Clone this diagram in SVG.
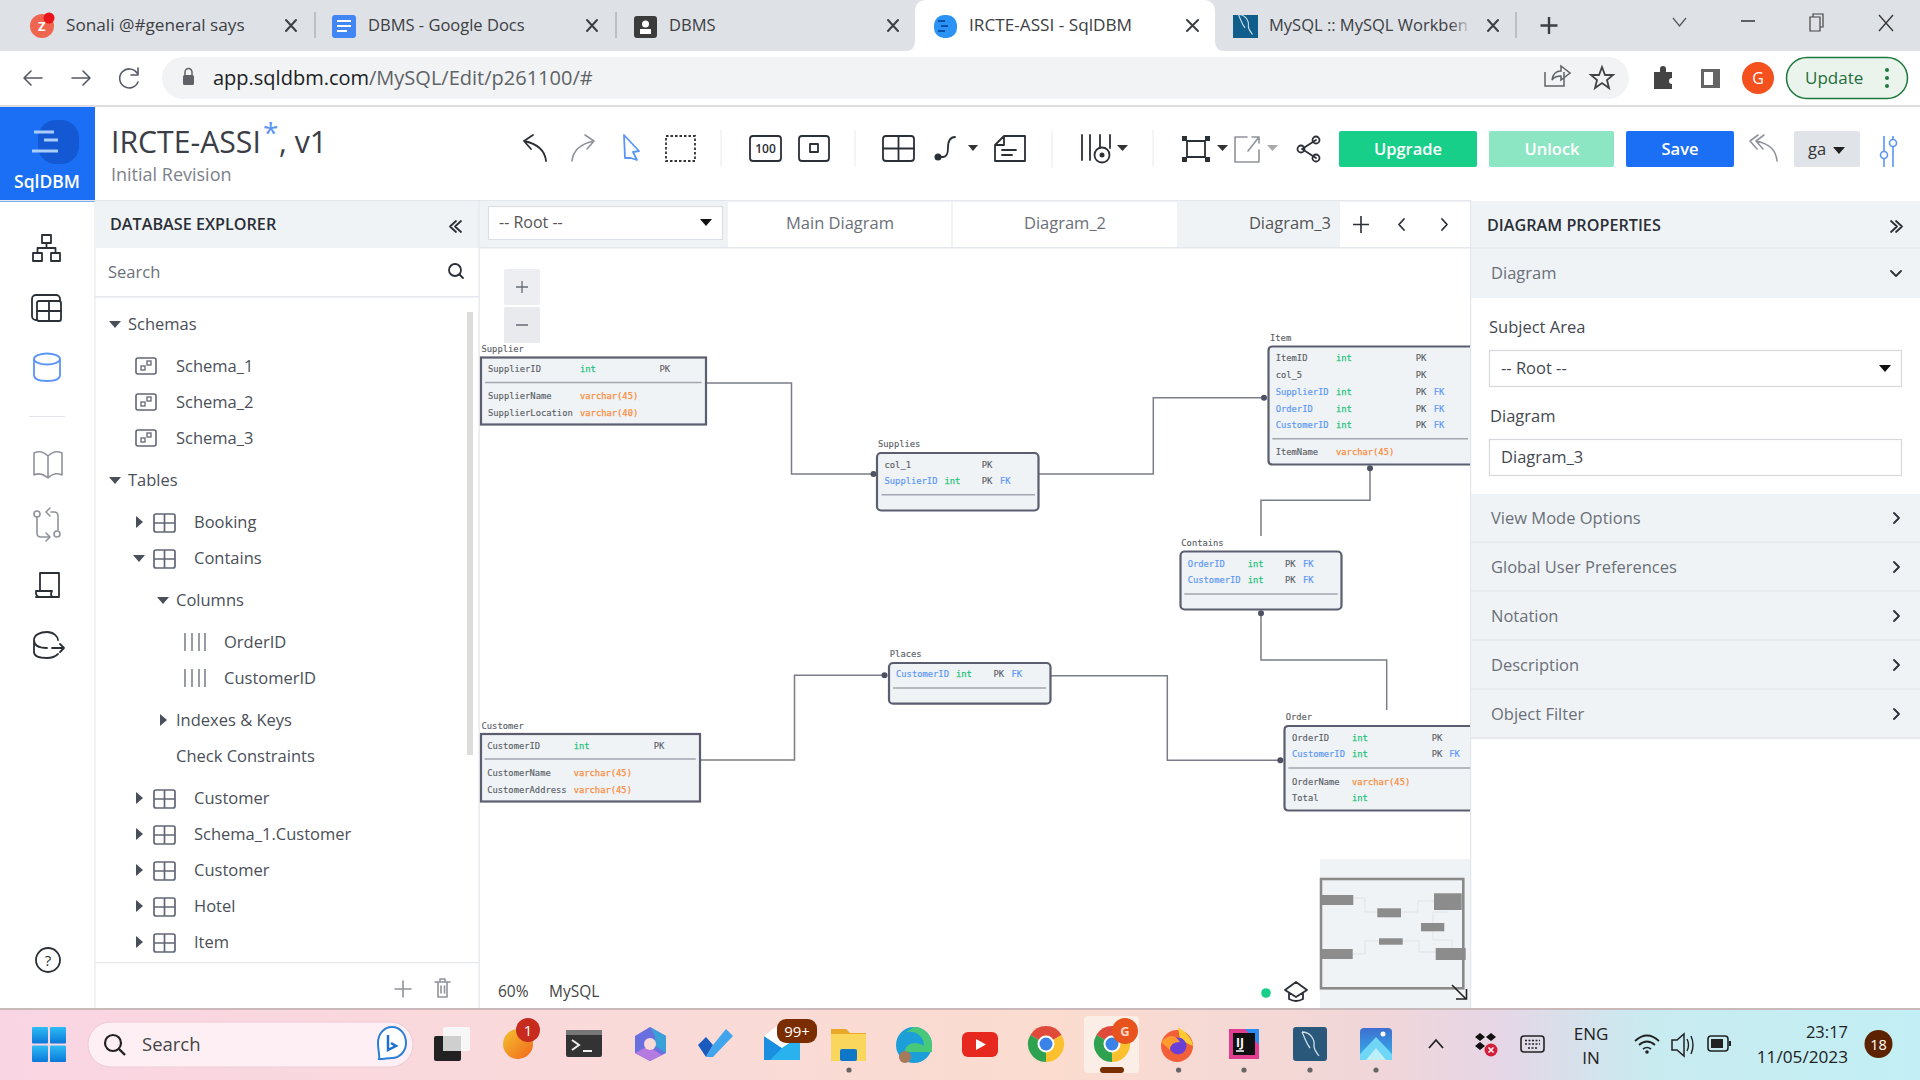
<svg xmlns="http://www.w3.org/2000/svg" xmlns:xlink="http://www.w3.org/1999/xlink" width="1920" height="1080" viewBox="0 0 1920 1080">
<style>
text{font-family:"Open Sans","Noto Sans","Liberation Sans",sans-serif;fill:#3c4148}
.tab{font-size:16.5px;fill:#3c4043}
.tree{font-size:16.5px;fill:#4a4f58}
.hdr{font-size:16.2px;font-weight:600;fill:#2b2f36}
.sec{font-size:16.5px;fill:#6b7078}
.lab{font-size:16.5px;fill:#444850}
.btn{font-size:16.5px;font-weight:600;fill:#fff;text-anchor:middle}
.m{font-family:"DejaVu Sans Mono","Liberation Mono",monospace;font-size:8.8px;fill:#5b5f66;stroke:#5b5f66;stroke-width:.15}
.m.g{fill:#1fc47a;stroke:#1fc47a;stroke-width:.25}
.m.o{fill:#fb8d3e;stroke:#fb8d3e;stroke-width:.25}
.m.b{fill:#5d98f6;stroke:#5d98f6;stroke-width:.2}
.tb{fill:#eff3f6;stroke:#5a5e6e;stroke-width:2.2}
.dv{stroke:#a3a6ae;stroke-width:1.6}
.cn{fill:none;stroke:#7b7e88;stroke-width:1.5}
.dot{fill:#4d5162}
.i{fill:none;stroke:#2b2f36;stroke-width:1.8;stroke-linecap:round;stroke-linejoin:round}
.ig{fill:none;stroke:#8f939c;stroke-width:1.6;stroke-linecap:round;stroke-linejoin:round}
.ip{fill:none;stroke:#555a66;stroke-width:1.6;stroke-linecap:round;stroke-linejoin:round}
.sep{stroke:#e8eaee;stroke-width:1}
.x{stroke:#3c4043;stroke-width:2;fill:none;stroke-linecap:round}
.tr{fill:#4a4f5c}
.mb{fill:#8c8c8c}
.ml{fill:none;stroke:#e0e2e6;stroke-width:1}
</style>
<defs>
<linearGradient id="bar" x1="0" x2="1" y1="0" y2="0">
<stop offset="0" stop-color="#f9d5e3"/><stop offset=".33" stop-color="#fadad9"/><stop offset=".55" stop-color="#fbdccf"/><stop offset=".72" stop-color="#f0d6d9"/><stop offset=".78" stop-color="#e6d6e6"/><stop offset=".86" stop-color="#c8ebf0"/><stop offset="1" stop-color="#c2eff5"/>
</linearGradient>
<linearGradient id="wb" x1="0" x2="0" y1="0" y2="1"><stop offset="0" stop-color="#2ebcf5"/><stop offset="1" stop-color="#0a78d8"/></linearGradient>
<linearGradient id="org" x1="0" x2="1" y1="0" y2="1"><stop offset="0" stop-color="#f4c22f"/><stop offset="1" stop-color="#f1661a"/></linearGradient>
<linearGradient id="pho" x1="0" x2="0" y1="0" y2="1"><stop offset="0" stop-color="#3f6ed0"/><stop offset="1" stop-color="#30b6ee"/></linearGradient>
<linearGradient id="fade" x1="0" x2="1" y1="0" y2="0"><stop offset="0" stop-color="#dee1e6" stop-opacity="0"/><stop offset="1" stop-color="#dee1e6"/></linearGradient>
<symbol id="tbl" viewBox="0 0 24 20" width="24" height="20" overflow="visible"><rect x="1" y="1" width="21" height="18" rx="2" fill="none" stroke="#626776" stroke-width="1.7"/><path d="M1 10H22M11.500 1V19" fill="none" stroke="#626776" stroke-width="1.7"/></symbol>
<symbol id="sch" viewBox="0 0 22 18" width="22" height="18" overflow="visible"><rect x="1" y="1" width="20" height="16" rx="2" fill="none" stroke="#626776" stroke-width="1.6"/><rect x="6" y="9" width="4" height="4" fill="none" stroke="#626776" stroke-width="1.3"/><rect x="12" y="4" width="4" height="4" fill="none" stroke="#626776" stroke-width="1.3"/></symbol>
<symbol id="col" viewBox="0 0 22 18" width="22" height="18" overflow="visible"><path d="M1 0V18M8 0V18M15 0V18M21 0V18" stroke="#626776" stroke-width="1.3" fill="none"/></symbol>
<symbol id="chr" viewBox="-18 -18 36 36" width="36" height="36" overflow="visible"><path d="M0 0L-15.600 -9A18 18 0 0 1 15.600 -9Z" fill="#e04a3b"/><path d="M0 0L-15.600 -9A18 18 0 0 0 0 18Z" fill="#2fa24f"/><path d="M0 0L0 18A18 18 0 0 0 15.600 -9Z" fill="#fbc02d"/><circle r="8.500" fill="#fff"/><circle r="6.500" fill="#3b82e8"/></symbol>
<symbol id="dolph" viewBox="0 0 24 30" width="24" height="30" overflow="visible"><path d="M4 3C12 3 17 10 16 17C16 21 19 24 21 27M4 3C7 9 8 14 12 19" fill="none" stroke="#cfe0ea" stroke-width="1.300"/></symbol>
</defs>

<rect width="1920" height="1080" fill="#fff"/>

<!-- Browser chrome -->
<g id="browser-tabs">
<rect width="1920" height="51" fill="#dee1e6"/>
<path d="M905 51Q915 51 915 41V12Q915 0 927 0H1203Q1215 0 1215 12V41Q1215 51 1225 51Z" fill="#fff"/>
<circle cx="42" cy="26" r="12" fill="#f0654f"/><circle cx="49" cy="18" r="5.500" fill="#e8161b"/>
<text x="38" y="31" style="font-size:13px;fill:#fff;font-weight:700">Z</text>
<text class="tab" x="66" y="31" style="font-size:17.2px">Sonali @#general says</text>
<path class="x" d="M286 20L296 31M296 20L286 31"/>
<path d="M315 12V38M616 12V38M1516 12V38" stroke="#9a9ca0" stroke-width="1"/>
<rect x="332" y="15" width="24" height="23" rx="3" fill="#4285f4"/><path d="M337 21H351M337 26H351M337 31H347" stroke="#fff" stroke-width="2"/>
<text class="tab" x="368" y="31">DBMS - Google Docs</text>
<path class="x" d="M587 20L597 31M597 20L587 31"/>
<rect x="634" y="16" width="23" height="22" rx="3" fill="#3b3b3b"/><circle cx="645.500" cy="24" r="3.500" fill="#fff"/><rect x="640" y="29" width="11" height="5" fill="#fff"/>
<text class="tab" x="669" y="31">DBMS</text>
<path class="x" d="M888 20L898 31M898 20L888 31"/>
<rect x="934" y="15" width="23" height="23" rx="10" fill="#2b93f5"/><path d="M938 21H945M941 26H948M938 31H945" stroke="#0b4fa8" stroke-width="2"/>
<text class="tab" x="969" y="31" style="font-size:17.2px">IRCTE-ASSI - SqlDBM</text>
<path class="x" d="M1187 20L1198 31M1198 20L1187 31"/>
<rect x="1233" y="15" width="25" height="23" fill="#0f5e8c"/><use href="#dolph" x="1234" y="12" width="22" height="25"/>
<text class="tab" x="1269" y="31">MySQL :: MySQL Workben</text>
<rect x="1450" y="10" width="22" height="32" fill="url(#fade)"/>
<path class="x" d="M1488 20L1498 31M1498 20L1488 31"/>
<path d="M1549 17V34M1540.500 25.500H1557.500" stroke="#3c4043" stroke-width="2.400"/>
<path d="M1673 18L1679.500 26L1686 18" fill="none" stroke="#555" stroke-width="1.200"/>
<path d="M1741 21H1755" stroke="#333" stroke-width="1.500"/>
<path d="M1810 17H1820V31H1810ZM1813 17V14H1823V27H1820" fill="none" stroke="#444" stroke-width="1.200"/>
<path d="M1879 15L1893 31M1893 15L1879 31" fill="none" stroke="#333" stroke-width="1.300"/>
</g>
<g id="address-bar">
<rect x="0" y="51" width="1920" height="54" fill="#fff"/>
<rect x="0" y="105" width="1920" height="2" fill="#dcdde0"/>
<rect x="162" y="57" width="1467" height="42" rx="21" fill="#f1f3f4"/>
<path d="M42 78H24M31 71L24 78L31 85" class="ip" stroke-width="2"/>
<path d="M72 78H90M83 71L90 78L83 85" class="ip" stroke-width="2"/>
<path d="M137 73A9.500 9.500 0 1 0 138 82M138 68V75H131" class="ip" stroke-width="2"/>
<rect x="183" y="75" width="11" height="10" rx="1.500" fill="#5f6368"/><path d="M185 75V72A3.500 3.500 0 0 1 192 72V75" fill="none" stroke="#5f6368" stroke-width="1.500"/>
<text x="213" y="85" style="font-size:20px;fill:#202124">app.sqldbm.com<tspan fill="#5f6368">/MySQL/Edit/p261100/#</tspan></text>
<path d="M1564 72V86H1545V72M1552 80C1553 73 1557 71 1561 71V66L1570 73L1561 80V76C1557 76 1554 77 1552 80Z" fill="none" stroke="#5f6368" stroke-width="1.500"/>
<path d="M1602 67L1605 75L1613 75L1607 80L1609 88L1602 83L1595 88L1597 80L1591 75L1599 75Z" fill="none" stroke="#444" stroke-width="1.800"/>
<path d="M1654 72H1660V69A3 3 0 0 1 1666 69V72H1672V78A3 3 0 0 0 1672 84V89H1654Z" fill="#444"/>
<rect x="1701" y="69" width="19" height="19" fill="#666"/><rect x="1704" y="72" width="9" height="13" fill="#fff"/>
<circle cx="1758" cy="78" r="16" fill="#f4511e"/><text x="1758" y="84" text-anchor="middle" style="font-size:16px;fill:#fff">G</text>
<rect x="1786.500" y="57.500" width="121" height="41" rx="20.500" fill="#eaf3ec" stroke="#1e7a3c" stroke-width="1.500"/>
<text x="1805" y="84" style="font-size:17px;fill:#1e6e3a">Update</text>
<g fill="#1e7a3c"><circle cx="1887" cy="70" r="2"/><circle cx="1887" cy="78" r="2"/><circle cx="1887" cy="86" r="2"/></g>
</g>

<!-- App toolbar -->
<g id="app-header">
<rect x="0" y="107" width="95" height="95" fill="#1b6ff4"/>
<rect x="38" y="120" width="41" height="44" rx="18" fill="#1458d4"/>
<path d="M34 132H54M44 140H58M32 151H58" stroke="#a9cdfa" stroke-width="3" fill="none"/>
<text x="47" y="188" text-anchor="middle" style="font-size:17.500px;font-weight:600;fill:#fff">SqlDBM</text>
<text x="111" y="153" style="font-size:30.200px;fill:#3a3e46" id="title">IRCTE-ASSI</text>
<text x="263" y="143" style="font-size:28px;fill:#5b95f5">*</text>
<text x="279" y="153" style="font-size:30.200px;fill:#3a3e46">, v1</text>
<text x="111" y="181" style="font-size:18px;fill:#7d828a">Initial Revision</text>
<rect x="0" y="200" width="1920" height="1.500" fill="#e4e7eb"/>
</g>
<g id="toolbar">
<path class="i" d="M546 161C545 150 538 144 524 141M524 141L533 135M524 141L531 149" stroke-width="1.600"/>
<path class="ig" d="M572 161C573 150 580 144 594 141M594 141L585 135M594 141L587 149"/>
<path d="M624 135L639 151L633 152L637 160L631 158L625 158Z" fill="none" stroke="#5b95f5" stroke-width="1.800" stroke-linejoin="round"/>
<rect x="666" y="136" width="29" height="25" fill="none" stroke="#333" stroke-width="1.800" stroke-dasharray="2.500 2"/>
<path class="sep" d="M721 130V167"/>
<rect x="750" y="136" width="31" height="25" rx="3" class="i"/>
<text x="765.500" y="153" text-anchor="middle" style="font-size:12px;fill:#2b2f36;font-weight:600">100</text>
<rect x="799" y="136" width="30" height="25" rx="3" class="i"/><rect x="810" y="144" width="8" height="8" class="i" stroke-width="1.500"/>
<path class="sep" d="M855 130V167"/>
<rect x="883" y="136" width="31" height="25" rx="3" class="i"/><path class="i" d="M883 148.500H914M898.500 136V161"/>
<path class="i" d="M939 157H943C947 157 948 153 948 148C948 141 950 137 955 137"/><circle cx="938" cy="157" r="3.500" fill="#2b2f36"/>
<path d="M968 145H978L973 151Z" fill="#333"/>
<path class="i" d="M1004 136H1025V161H995V145ZM995 145H1004V136M1002 150H1016M1002 155H1012"/>
<path class="sep" d="M1052 130V167"/>
<path class="i" d="M1082 135V160M1090 135V160M1100 135V148M1110 135V148"/><circle cx="1102" cy="155" r="7.500" class="i"/><circle cx="1102" cy="155" r="2.500" fill="#2b2f36"/>
<path d="M1117 145H1128L1122.500 151Z" fill="#333"/>
<path class="sep" d="M1153 130V167"/>
<rect x="1187" y="141" width="18" height="16" class="i"/><g fill="#2b2f36"><rect x="1182" y="136" width="5" height="5"/><rect x="1205" y="136" width="5" height="5"/><rect x="1182" y="157" width="5" height="5"/><rect x="1205" y="157" width="5" height="5"/></g>
<path d="M1217 145H1228L1222.500 151Z" fill="#333"/>
<path class="ig" d="M1247 137H1235V162H1259V150M1248 151L1259 137M1252 137H1259V143"/>
<path d="M1267 145H1278L1272.500 151Z" fill="#aaa"/>
<path class="i" d="M1316 140L1302 149L1316 158"/><circle cx="1316" cy="140" r="3.500" class="i" fill="#fff"/><circle cx="1301" cy="149" r="3.500" class="i" fill="#fff"/><circle cx="1316" cy="158" r="3.500" class="i" fill="#fff"/>
<rect x="1339" y="131" width="138" height="36" rx="2" fill="#18cf8a"/><text class="btn" x="1408" y="155">Upgrade</text>
<rect x="1489" y="131" width="125" height="36" rx="2" fill="#8de6c3"/><text class="btn" x="1552" y="155">Unlock</text>
<rect x="1626" y="131" width="108" height="36" rx="2" fill="#1b6ff4"/><text class="btn" x="1680" y="155">Save</text>
<path class="ig" d="M1777 161C1776 150 1770 144 1756 141M1756 141L1764 135M1756 141L1763 149M1750 141L1758 135M1750 141L1757 149"/>
<rect x="1794" y="131" width="66" height="36" rx="2" fill="#e0e3e8"/><text x="1808" y="155" style="font-size:16.500px;fill:#333">ga</text><path d="M1833 147H1845L1839 154Z" fill="#222"/>
<path d="M1884 136V167M1893 136V167" stroke="#5b95f5" stroke-width="1.600"/><circle cx="1884" cy="155" r="3.500" fill="#fff" stroke="#5b95f5" stroke-width="1.600"/><circle cx="1893" cy="143" r="3.500" fill="#fff" stroke="#5b95f5" stroke-width="1.600"/>
</g>

<!-- Left icon rail -->
<g id="left-rail">
<rect x="94.500" y="200" width="1" height="808" fill="#e2e5ea"/>
<g class="i"><rect x="42" y="235" width="9" height="8"/><rect x="33" y="253" width="9" height="8"/><rect x="51" y="253" width="9" height="8"/><path d="M46.500 243V248M37.500 253V248H55.500V253"/></g>
<g class="i"><rect x="32" y="295" width="28" height="25" rx="4"/><rect x="37" y="301" width="24" height="20" rx="2" fill="#fff"/><path d="M37 311H61M49 301V321"/></g>
<g fill="none" stroke="#5b95f5" stroke-width="1.800"><ellipse cx="47" cy="359" rx="13" ry="5.500"/><path d="M34 359V375Q34 381 47 381Q60 381 60 375V359"/></g>
<path d="M29 416.500H65" stroke="#e2e5ea" stroke-width="1.200"/>
<path class="ig" d="M48 478C42 473 38 473 34 475V453C38 451 43 451 48 456C53 451 58 451 62 453V475C58 473 53 473 48 478ZM48 456V478"/>
<g class="ig"><circle cx="37" cy="514" r="3"/><path d="M37 517V533Q37 537 41 537H50M46 533L50 537L46 541M51 512H54Q58 512 58 516V530M50 508L46 512L50 516"/><circle cx="57" cy="534" r="3"/></g>
<path class="i" d="M40 573H59V597H36M40 573V591H36Q35 597 41 597H52Q50 594 52 591H36" stroke-width="1.700"/>
<g class="i"><path d="M58 640C58 637 54 632 47 632C40 632 34 635 34 640V652C34 657 40 658 47 658C52 658 56 656 58 654M34 640C34 646 40 648 47 648M52 648H64M60 644L64 648L60 652"/></g>
<circle cx="48" cy="960" r="12" class="i"/><text x="48" y="966" text-anchor="middle" style="font-size:15px;fill:#2b2f36">?</text>
</g>

<!-- Explorer -->
<g id="database-explorer">
<rect x="95" y="201" width="384" height="47" fill="#eff3f6"/>
<text class="hdr" x="110" y="230">DATABASE EXPLORER</text>
<path class="i" d="M456 221L450 226.500L456 232M461 221L455 226.500L461 232" stroke-width="1.500"/>
<text x="108" y="278" style="font-size:16.500px;fill:#6c7178">Search</text>
<circle cx="455" cy="270" r="6" class="i" stroke-width="1.500"/><path class="i" d="M459.500 274.500L463 278" stroke-width="1.500"/>
<rect x="95" y="296" width="384" height="1.500" fill="#e4e7eb"/>
<rect x="467" y="312" width="6" height="443" fill="#dcdcdc"/>
<rect x="478.500" y="200" width="1.200" height="808" fill="#e2e5ea"/>
<path class="tr" d="M109 321H121L115 328Z"/><text class="tree" x="128" y="330">Schemas</text>
<use href="#sch" x="135" y="357"/><text class="tree" x="176" y="372">Schema_1</text>
<use href="#sch" x="135" y="393"/><text class="tree" x="176" y="408">Schema_2</text>
<use href="#sch" x="135" y="429"/><text class="tree" x="176" y="444">Schema_3</text>
<path class="tr" d="M109 477H121L115 484Z"/><text class="tree" x="128" y="486">Tables</text>
<path class="tr" d="M136 516V528L143 522Z"/><use href="#tbl" x="153" y="513"/><text class="tree" x="194" y="528">Booking</text>
<path class="tr" d="M133 555H145L139 562Z"/><use href="#tbl" x="153" y="549"/><text class="tree" x="194" y="564">Contains</text>
<path class="tr" d="M157 597H169L163 604Z"/><text class="tree" x="176" y="606">Columns</text>
<use href="#col" x="184" y="633"/><text class="tree" x="224" y="648">OrderID</text>
<use href="#col" x="184" y="669"/><text class="tree" x="224" y="684">CustomerID</text>
<path class="tr" d="M160 714V726L167 720Z"/><text class="tree" x="176" y="726">Indexes &amp; Keys</text>
<text class="tree" x="176" y="762">Check Constraints</text>
<path class="tr" d="M136 792V804L143 798Z"/><use href="#tbl" x="153" y="789"/><text class="tree" x="194" y="804">Customer</text>
<path class="tr" d="M136 828V840L143 834Z"/><use href="#tbl" x="153" y="825"/><text class="tree" x="194" y="840">Schema_1.Customer</text>
<path class="tr" d="M136 864V876L143 870Z"/><use href="#tbl" x="153" y="861"/><text class="tree" x="194" y="876">Customer</text>
<path class="tr" d="M136 900V912L143 906Z"/><use href="#tbl" x="153" y="897"/><text class="tree" x="194" y="912">Hotel</text>
<path class="tr" d="M136 936V948L143 942Z"/><use href="#tbl" x="153" y="933"/><text class="tree" x="194" y="948">Item</text>
<rect x="95" y="962" width="384" height="1.200" fill="#e4e7eb"/>
<path class="ig" d="M403 981V997M395 989H411"/>
<path class="ig" d="M435 982H450M438 982V997H447V982M440 982V979H445V982M441 986V993M444.500 986V993"/>
</g>

<!-- Diagram tabs -->
<g id="diagram-tabs">
<rect x="480" y="201" width="248" height="46" fill="#eff3f6"/>
<rect x="488.500" y="206.500" width="234" height="33" fill="#fff" stroke="#dcdfe3" stroke-width="1.200"/>
<text x="499" y="228" style="font-size:16px;fill:#555">-- Root --</text>
<path d="M700 219H712L706 226Z" fill="#111"/>
<text x="840" y="229" text-anchor="middle" style="font-size:16.500px;fill:#6b7078">Main Diagram</text>
<path d="M952 201V247" stroke="#e4e7eb"/>
<text x="1065" y="229" text-anchor="middle" style="font-size:16.500px;fill:#6b7078">Diagram_2</text>
<rect x="1177" y="201" width="163" height="46" fill="#eff3f6"/>
<text x="1331" y="229" text-anchor="end" style="font-size:16.500px;fill:#555">Diagram_3</text>
<path d="M1361 216V233M1353 224.500H1369" stroke="#2b2f36" stroke-width="1.600"/>
<path class="i" d="M1404 219L1399 224.500L1404 230M1442 219L1447 224.500L1442 230" stroke-width="1.500"/>
<rect x="480" y="247" width="990" height="1.500" fill="#e4e7eb"/>
<rect x="504" y="269" width="36" height="36" rx="2" fill="#eceef2"/><rect x="504" y="307" width="36" height="36" rx="2" fill="#e8eaee"/>
<path d="M522 281V293M516 287H528M516 325H528" stroke="#666b75" stroke-width="1.300"/>
</g>

<!-- Connectors -->
<g id="connectors">
<path class="cn" d="M707 383H791.500V474H872.600"/>
<path class="cn" d="M1039 474H1153.300V397.700H1264"/>
<path class="cn" d="M1370 468.300V500.300H1261V536"/>
<path class="cn" d="M1261 613.300V660H1386.700V710"/>
<path class="cn" d="M700.400 760H794.500V675.300H884.500"/>
<path class="cn" d="M1050.500 675.700H1167.300V760.300H1280.300"/>
<circle class="dot" cx="873.500" cy="474" r="3"/>
<circle class="dot" cx="1264" cy="397.700" r="3"/>
<circle class="dot" cx="1370" cy="468.300" r="3"/>
<circle class="dot" cx="1261" cy="613.300" r="3"/>
<circle class="dot" cx="884.500" cy="675.300" r="3"/>
<circle class="dot" cx="1280.300" cy="760.300" r="3"/>
</g>

<!-- Table nodes -->
<g id="node-supplier">
<text class="m" x="481.500" y="352">Supplier</text>
<rect class="tb" x="481" y="357.500" width="225" height="67"/>
<path class="dv" d="M485 382.500H701.500"/>
<text class="m" x="488" y="372">SupplierID</text><text class="m g" x="580" y="372">int</text><text class="m" x="659.500" y="372">PK</text>
<text class="m" x="488" y="399">SupplierName</text><text class="m o" x="580" y="399">varchar(45)</text>
<text class="m" x="488" y="416">SupplierLocation</text><text class="m o" x="580" y="416">varchar(40)</text>
</g>
<g id="node-supplies">
<text class="m" x="878" y="447">Supplies</text>
<rect class="tb" x="877" y="453" width="161.500" height="57.500" rx="4"/>
<path class="dv" d="M881.500 494.700H1035"/>
<text class="m" x="884.500" y="468">col_1</text><text class="m" x="981.700" y="468">PK</text>
<text class="m b" x="884.500" y="484">SupplierID</text><text class="m g" x="944.500" y="484">int</text><text class="m" x="981.700" y="484">PK</text><text class="m b" x="1000" y="484">FK</text>
</g>
<g id="node-item">
<text class="m" x="1270" y="341">Item</text>
<path class="tb" d="M1470 346.500H1272.500Q1268.500 346.500 1268.500 350.500V460.500Q1268.500 464.500 1272.500 464.500H1470"/>
<path class="dv" d="M1272.300 438.700H1468"/>
<text class="m" x="1275.700" y="361">ItemID</text><text class="m g" x="1336" y="361">int</text><text class="m" x="1415.700" y="361">PK</text>
<text class="m" x="1275.700" y="378">col_5</text><text class="m" x="1415.700" y="378">PK</text>
<text class="m b" x="1275.700" y="395">SupplierID</text><text class="m g" x="1336" y="395">int</text><text class="m" x="1415.700" y="395">PK</text><text class="m b" x="1433.700" y="395">FK</text>
<text class="m b" x="1275.700" y="412">OrderID</text><text class="m g" x="1336" y="412">int</text><text class="m" x="1415.700" y="412">PK</text><text class="m b" x="1433.700" y="412">FK</text>
<text class="m b" x="1275.700" y="428">CustomerID</text><text class="m g" x="1336" y="428">int</text><text class="m" x="1415.700" y="428">PK</text><text class="m b" x="1433.700" y="428">FK</text>
<text class="m" x="1275.700" y="455">ItemName</text><text class="m o" x="1336" y="455">varchar(45)</text>
</g>
<g id="node-contains">
<text class="m" x="1181.300" y="546">Contains</text>
<rect class="tb" x="1180.500" y="551.500" width="161" height="58" rx="4"/>
<path class="dv" d="M1184.300 594H1337.700"/>
<text class="m b" x="1187.700" y="567">OrderID</text><text class="m g" x="1247.700" y="567">int</text><text class="m" x="1285" y="567">PK</text><text class="m b" x="1303" y="567">FK</text>
<text class="m b" x="1187.700" y="583">CustomerID</text><text class="m g" x="1247.700" y="583">int</text><text class="m" x="1285" y="583">PK</text><text class="m b" x="1303" y="583">FK</text>
</g>
<g id="node-places">
<text class="m" x="889.800" y="657.300">Places</text>
<rect class="tb" x="889" y="663" width="161.500" height="40.700" rx="4"/>
<path class="dv" d="M893 688H1046"/>
<text class="m b" x="896" y="677.300">CustomerID</text><text class="m g" x="956" y="677.300">int</text><text class="m" x="993.500" y="677.300">PK</text><text class="m b" x="1011.500" y="677.300">FK</text>
</g>
<g id="node-customer">
<text class="m" x="481.500" y="728.700">Customer</text>
<rect class="tb" x="481" y="734" width="219" height="67.500"/>
<path class="dv" d="M484.500 759H695.800"/>
<text class="m" x="487.200" y="748.700">CustomerID</text><text class="m g" x="573.700" y="748.700">int</text><text class="m" x="653.700" y="748.700">PK</text>
<text class="m" x="487.200" y="775.700">CustomerName</text><text class="m o" x="573.700" y="775.700">varchar(45)</text>
<text class="m" x="487.200" y="792.700">CustomerAddress</text><text class="m o" x="573.700" y="792.700">varchar(45)</text>
</g>
<g id="node-order">
<text class="m" x="1285.700" y="720">Order</text>
<path class="tb" d="M1470 726H1288.500Q1284.500 726 1284.500 730V806.500Q1284.500 810.500 1288.500 810.500H1470"/>
<path class="dv" d="M1288.300 768H1470"/>
<text class="m" x="1292" y="740.700">OrderID</text><text class="m g" x="1352" y="740.700">int</text><text class="m" x="1431.700" y="740.700">PK</text>
<text class="m b" x="1292" y="757.300">CustomerID</text><text class="m g" x="1352" y="757.300">int</text><text class="m" x="1431.700" y="757.300">PK</text><text class="m b" x="1449.300" y="757.300">FK</text>
<text class="m" x="1292" y="784.700">OrderName</text><text class="m o" x="1352" y="784.700">varchar(45)</text>
<text class="m" x="1292" y="800.700">Total</text><text class="m g" x="1352" y="800.700">int</text>
</g>

<!-- Canvas footer and minimap -->
<g id="minimap">
<rect x="1320" y="859" width="150" height="149" fill="#eff3f6"/>
<path class="ml" d="M1353 898H1365V912H1377M1401 912H1418V901H1434M1421 927H1433V912H1448M1353 954H1365V941H1379M1403 941H1419V952H1436M1433 923V940H1452V948"/>
<rect class="mb" x="1321" y="895" width="32.300" height="10"/>
<rect class="mb" x="1377.300" y="908.300" width="23.700" height="9"/>
<rect class="mb" x="1434" y="893.300" width="27.700" height="16.700"/>
<rect class="mb" x="1421" y="923" width="23.300" height="8.300"/>
<rect class="mb" x="1379" y="938.300" width="23.700" height="6.400"/>
<rect class="mb" x="1321" y="949" width="31.700" height="10"/>
<rect class="mb" x="1435.700" y="948" width="30" height="12"/>
<rect x="1321" y="879" width="142.300" height="109.300" fill="none" stroke="#8a8a8a" stroke-width="2.600"/>
<path d="M1452 985L1466 999M1456 999H1466.500V989" fill="none" stroke="#222" stroke-width="1.600"/>
</g>
<g id="canvas-footer">
<text x="498" y="997" style="font-size:15.500px;fill:#444">60%</text>
<text x="549" y="997" style="font-size:15.500px;fill:#444">MySQL</text>
<circle cx="1266" cy="993" r="4.800" fill="#18cf8a"/>
<path class="i" d="M1285 990L1296 982L1307 990L1296 997ZM1289 993V999Q1296 1003 1303 999V993" stroke-width="1.500"/>
</g>

<!-- Right panel -->
<g id="diagram-properties">
<rect x="1470" y="200" width="450" height="808" fill="#fff"/>
<rect x="1470" y="200" width="1.200" height="808" fill="#e2e5ea"/>
<rect x="1471" y="201" width="449" height="97" fill="#eff3f6"/>
<path d="M1471 248H1920" stroke="#e2e5ea"/>
<text class="hdr" x="1487" y="231">DIAGRAM PROPERTIES</text>
<path class="i" d="M1891 221L1897 226.500L1891 232M1896 221L1902 226.500L1896 232" stroke-width="1.500"/>
<text class="sec" x="1491" y="279">Diagram</text>
<path class="i" d="M1891 271L1896 276L1901 271" stroke-width="1.400"/>
<text class="lab" x="1489" y="333">Subject Area</text>
<rect x="1489.500" y="350.500" width="412" height="36" fill="#fff" stroke="#d6d8dc" stroke-width="1.200"/>
<text class="lab" x="1501" y="374">-- Root --</text>
<path d="M1879 365H1891L1885 372Z" fill="#111"/>
<text class="lab" x="1490" y="422">Diagram</text>
<rect x="1489.500" y="439.500" width="412" height="36" fill="#fff" stroke="#d6d8dc" stroke-width="1.200"/>
<text class="lab" x="1501" y="463">Diagram_3</text>
<rect x="1471" y="494" width="449" height="245" fill="#eff3f6"/>
<path d="M1471 542H1920M1471 591H1920M1471 640H1920M1471 689H1920M1471 738H1920" stroke="#e0e3e7" stroke-width="1"/>
<text class="sec" x="1491" y="524">View Mode Options</text>
<text class="sec" x="1491" y="573">Global User Preferences</text>
<text class="sec" x="1491" y="622">Notation</text>
<text class="sec" x="1491" y="671">Description</text>
<text class="sec" x="1491" y="720">Object Filter</text>
<path class="i" d="M1894 513L1899 518L1894 523M1894 562L1899 567L1894 572M1894 611L1899 616L1894 621M1894 660L1899 665L1894 670M1894 709L1899 714L1894 719" stroke-width="1.400"/>
</g>

<!-- Taskbar -->
<g id="taskbar">
<rect x="0" y="1008" width="1920" height="72" fill="url(#bar)"/>
<rect x="0" y="1008" width="1920" height="2" fill="#c9b9ba"/>
<g fill="url(#wb)"><rect x="32" y="1027" width="16" height="16.500" rx="1"/><rect x="50" y="1027" width="16" height="16.500" rx="1"/><rect x="32" y="1045.500" width="16" height="16.500" rx="1"/><rect x="50" y="1045.500" width="16" height="16.500" rx="1"/></g>
<rect x="88" y="1022" width="325" height="45" rx="22.500" fill="#fdeff3" stroke="#eccbd6"/>
<circle cx="113" cy="1043" r="8" fill="none" stroke="#222" stroke-width="2.200"/><path d="M119 1049L125 1055" stroke="#222" stroke-width="2.400"/>
<text x="142" y="1051" style="font-size:18.500px;fill:#444">Search</text>
<path d="M392 1027C384 1027 378 1034 378 1043C378 1051 380 1056 379 1059C384 1059 388 1058 392 1058C400 1058 406 1051 406 1043C406 1034 400 1027 392 1027Z" fill="#fff" stroke="#2c7fd6" stroke-width="2"/>
<path d="M388 1035V1050L396 1046L391 1043" fill="none" stroke="#1f6fd0" stroke-width="2.500"/>
<rect x="443" y="1027" width="27" height="24" rx="2" fill="#f7f7f7"/><rect x="434" y="1036" width="27" height="25" rx="2" fill="#222"/><rect x="443" y="1036" width="18" height="15" fill="#cfcfcf"/>
<ellipse cx="518" cy="1044" rx="15" ry="15" fill="url(#org)"/>
<circle cx="528" cy="1030" r="12" fill="#c62b1e"/><text x="528" y="1036" text-anchor="middle" style="font-size:15px;fill:#fff">1</text>
<rect x="566" y="1030" width="36" height="27" rx="2" fill="#333"/><path d="M566 1030H602V1035H566Z" fill="#777"/><path d="M572 1040L579 1045L572 1050" fill="none" stroke="#eee" stroke-width="2"/><path d="M583 1051H592" stroke="#eee" stroke-width="2"/>
<path d="M650 1027L666 1036V1053L650 1061L635 1053V1036Z" fill="#6a6fe0"/><path d="M650 1027L666 1036V1053L655 1046V1036Z" fill="#39a0d8"/><path d="M635 1053L650 1061L662 1055L648 1046Z" fill="#b47adf"/><circle cx="650" cy="1044" r="6" fill="#fadad9"/>
<path d="M698 1045L706 1037L713 1045L706 1057Z" fill="#185abd"/><path d="M706 1057L713 1045L726 1029L733 1036L713 1057Z" fill="#41a5ee"/>
<path d="M764 1036L782 1048L800 1036V1060H764Z" fill="#1a8fe0"/><path d="M764 1036L782 1022L800 1036L782 1048Z" fill="#fff"/><path d="M782 1048L800 1036V1060H770Z" fill="#29b2ee"/>
<rect x="777" y="1019" width="40" height="24" rx="9" fill="#7a2e00"/><text x="797" y="1037" text-anchor="middle" style="font-size:15px;fill:#fff">99+</text>
<path d="M831 1029H846L850 1033H866V1061H831Z" fill="#e8a828"/><rect x="831" y="1034" width="35" height="27" fill="#fbd65c"/><rect x="840" y="1049" width="17" height="12" rx="2" fill="#0e77c9"/>
<circle cx="849" cy="1070" r="2.600" fill="#666"/>
<circle cx="914" cy="1045" r="18" fill="#1c9ed8"/><path d="M914 1027A18 18 0 0 1 932 1045L932 1052H905C905 1044 915 1040 924 1046A14 14 0 0 0 900 1036Z" fill="#48c97a"/><circle cx="905" cy="1057" r="6" fill="#a87a5c"/>
<rect x="962" y="1032" width="36" height="25" rx="6" fill="#e6281f"/><path d="M976 1039V1050L986 1044.500Z" fill="#fff"/>
<use href="#chr" x="1028" y="1026"/>
<rect x="1084" y="1016" width="55" height="57" rx="4" fill="#fbeee6"/>
<use href="#chr" x="1094" y="1026"/>
<circle cx="1125" cy="1031" r="13" fill="#e8531d"/><text x="1125" y="1036" text-anchor="middle" style="font-size:13px;fill:#f9d7c6;font-weight:700">G</text>
<rect x="1100" y="1067" width="24" height="6" rx="3" fill="#7a2e00"/>
<circle cx="1177" cy="1046" r="16" fill="#f2603a"/><path d="M1178 1027Q1192 1036 1193 1046L1180 1040Z" fill="#ffcb30"/><circle cx="1178" cy="1046" r="8.500" fill="#6a3fd8"/><path d="M1161 1042Q1172 1030 1180 1042Q1170 1042 1170 1050Z" fill="#ff9a2e"/>
<rect x="1229" y="1029" width="30" height="30" fill="#e23d8f"/><path d="M1229 1029H1259V1045L1245 1029Z" fill="#2d8cf0"/><rect x="1233" y="1033" width="22" height="22" fill="#111"/><text x="1236" y="1047" style="font-size:12px;font-weight:700;fill:#fff">IJ</text><path d="M1236 1051H1244" stroke="#fff" stroke-width="1.500"/>
<rect x="1293" y="1027" width="34" height="34" rx="3" fill="#29587a"/><use href="#dolph" x="1298" y="1029"/>
<rect x="1360" y="1028" width="32" height="32" rx="4" fill="url(#pho)"/><path d="M1360 1054L1376 1037L1392 1054V1060H1360Z" fill="#6fd6f5"/><path d="M1366 1060L1376 1048L1386 1060Z" fill="#bfeefb"/><circle cx="1383" cy="1034" r="2.500" fill="#fff"/>
<g fill="#666"><circle cx="1178.600" cy="1070" r="2.600"/><circle cx="1244" cy="1070" r="2.600"/><circle cx="1310" cy="1070" r="2.600"/><circle cx="1376" cy="1070" r="2.600"/></g>
<path d="M1429 1048L1436 1040L1443 1048" fill="none" stroke="#222" stroke-width="1.800"/>
<g fill="#111"><path d="M1480 1033L1485 1037L1480 1041L1475 1037Z"/><path d="M1491 1033L1496 1037L1491 1041L1486 1037Z"/><path d="M1480 1042L1485 1046L1480 1050L1475 1046Z"/></g><circle cx="1491" cy="1050" r="6.500" fill="#d21f3c"/><path d="M1488.500 1047.500L1493.500 1052.500M1493.500 1047.500L1488.500 1052.500" stroke="#fff" stroke-width="1.500"/>
<rect x="1521" y="1036" width="23" height="16" rx="3" fill="none" stroke="#222" stroke-width="1.600"/><path d="M1525 1040.500H1540M1525 1044H1540M1528 1048H1537" stroke="#222" stroke-width="1.300" stroke-dasharray="2 1.500"/>
<text x="1591" y="1040" text-anchor="middle" style="font-size:17px;fill:#222">ENG</text>
<text x="1591" y="1064" text-anchor="middle" style="font-size:17px;fill:#222">IN</text>
<g fill="none" stroke="#222" stroke-width="1.700"><path d="M1635 1041Q1647 1030 1659 1041M1639 1045Q1647 1038 1655 1045M1643 1049Q1647 1046 1651 1049"/></g><circle cx="1647" cy="1052" r="1.800" fill="#222"/>
<path d="M1672 1040H1677L1684 1034V1056L1677 1050H1672Z" fill="none" stroke="#222" stroke-width="1.500"/><path d="M1687 1039Q1690 1045 1687 1051M1691 1036Q1695 1045 1691 1054" fill="none" stroke="#222" stroke-width="1.400"/>
<rect x="1708" y="1036" width="20" height="15" rx="3" fill="none" stroke="#222" stroke-width="1.600"/><rect x="1711" y="1039" width="12" height="9" fill="#222"/><rect x="1729" y="1041" width="2" height="5" fill="#222"/>
<text x="1848" y="1038" text-anchor="end" style="font-size:16.500px;fill:#222">23:17</text>
<text x="1848" y="1063" text-anchor="end" style="font-size:17.200px;fill:#222">11/05/2023</text>
<circle cx="1878.500" cy="1044" r="14" fill="#5d2200"/><text x="1878.500" y="1050" text-anchor="middle" style="font-size:14.500px;fill:#fff">18</text>
</g>
</svg>
